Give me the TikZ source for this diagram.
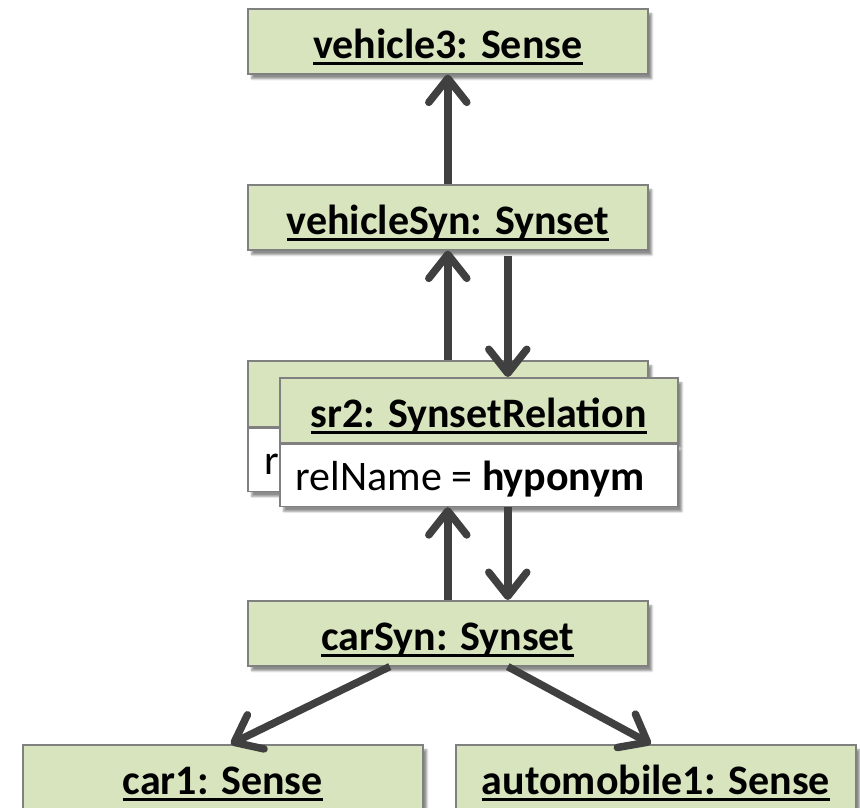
\documentclass[tikz,border=0pt]{standalone}
\usepackage{fontspec}
\setmainfont{Carlito}
\usetikzlibrary{arrows.meta,positioning,shadows.blur}
\definecolor{boxgreen}{RGB}{215,228,189}
\definecolor{edgegray}{RGB}{128,128,128}
\definecolor{arrowgray}{RGB}{64,64,64}
\newcommand{\objname}[1]{\setbox0\hbox{#1}\rlap{\smash{\rule[-6.4pt]{\wd0}{2.8pt}}}\box0}
\newcommand{\attrline}[1]{\makebox[366pt][l]{#1}}
\tikzset{
  basebox/.style={rectangle,draw=edgegray,line width=1.6pt,inner sep=0pt,anchor=north west,
    minimum width=400pt,font=\fontsize{42}{50}\selectfont,
    blur shadow={shadow xshift=4pt,shadow yshift=-5pt,shadow blur steps=6,shadow opacity=45}},
  objnode/.style={basebox,fill=boxgreen,font=\fontsize{42}{50}\selectfont\bfseries,
    minimum height=65pt,text height=36pt,text depth=1pt},
  attrnode/.style={basebox,fill=white,inner xsep=16pt,
    minimum height=62pt,text height=32pt,text depth=2pt},
  arr/.style={-{Straight Barb[length=24pt,width=38pt,round]},line width=7.5pt,color=arrowgray}
}

\begin{document}
\begin{tikzpicture}[x=1pt,y=-1pt]
  \useasboundingbox (0,0) rectangle (860,807);

  \node[objnode] (vehicle3) at (247,8) {\objname{vehicle3: Sense}};
  \node[objnode] (vehicleSyn) at (247,184) {\objname{vehicleSyn: Synset}};

  % relation objects (back one is mostly hidden)
  \node[objnode,minimum height=66pt] (sr1head) at (247,360) {\objname{sr1: SynsetRelation}};
  \node[attrnode,minimum height=63pt] (sr1attr) at (sr1head.south west) {\attrline{relName = \textbf{hypernym}}};
  \node[objnode,minimum width=398pt] (sr2head) at (279,377) {\objname{sr2: SynsetRelation}};
  \node[attrnode,minimum width=398pt] (sr2attr) at (sr2head.south west) {\attrline{relName = \textbf{hyponym}}};

  \node[objnode] (carSyn) at (247,600) {\objname{carSyn: Synset}};
  \node[objnode] (car1) at (22,744) {\objname{car1: Sense}};
  \node[objnode] (automobile1) at (455,744) {\objname{automobile1: Sense}};

  \draw[arr] (vehicleSyn.north) -- (vehicle3.south);
  \draw[arr] (sr1head.north) -- (vehicleSyn.south);
  \draw[arr] ([xshift=60pt,yshift=-5pt]vehicleSyn.south) -- ([xshift=29pt]sr2head.north);
  \draw[arr] (carSyn.north) -- ([xshift=-31pt]sr2attr.south);
  \draw[arr] ([xshift=29pt]sr2attr.south) -- ([xshift=60pt]carSyn.north);
  \draw[arr] ([xshift=-58pt]carSyn.south) -- ([xshift=8pt]car1.north);
  \draw[arr] ([xshift=60pt]carSyn.south) -- ([xshift=-5pt]automobile1.north);
\end{tikzpicture}
\end{document}
